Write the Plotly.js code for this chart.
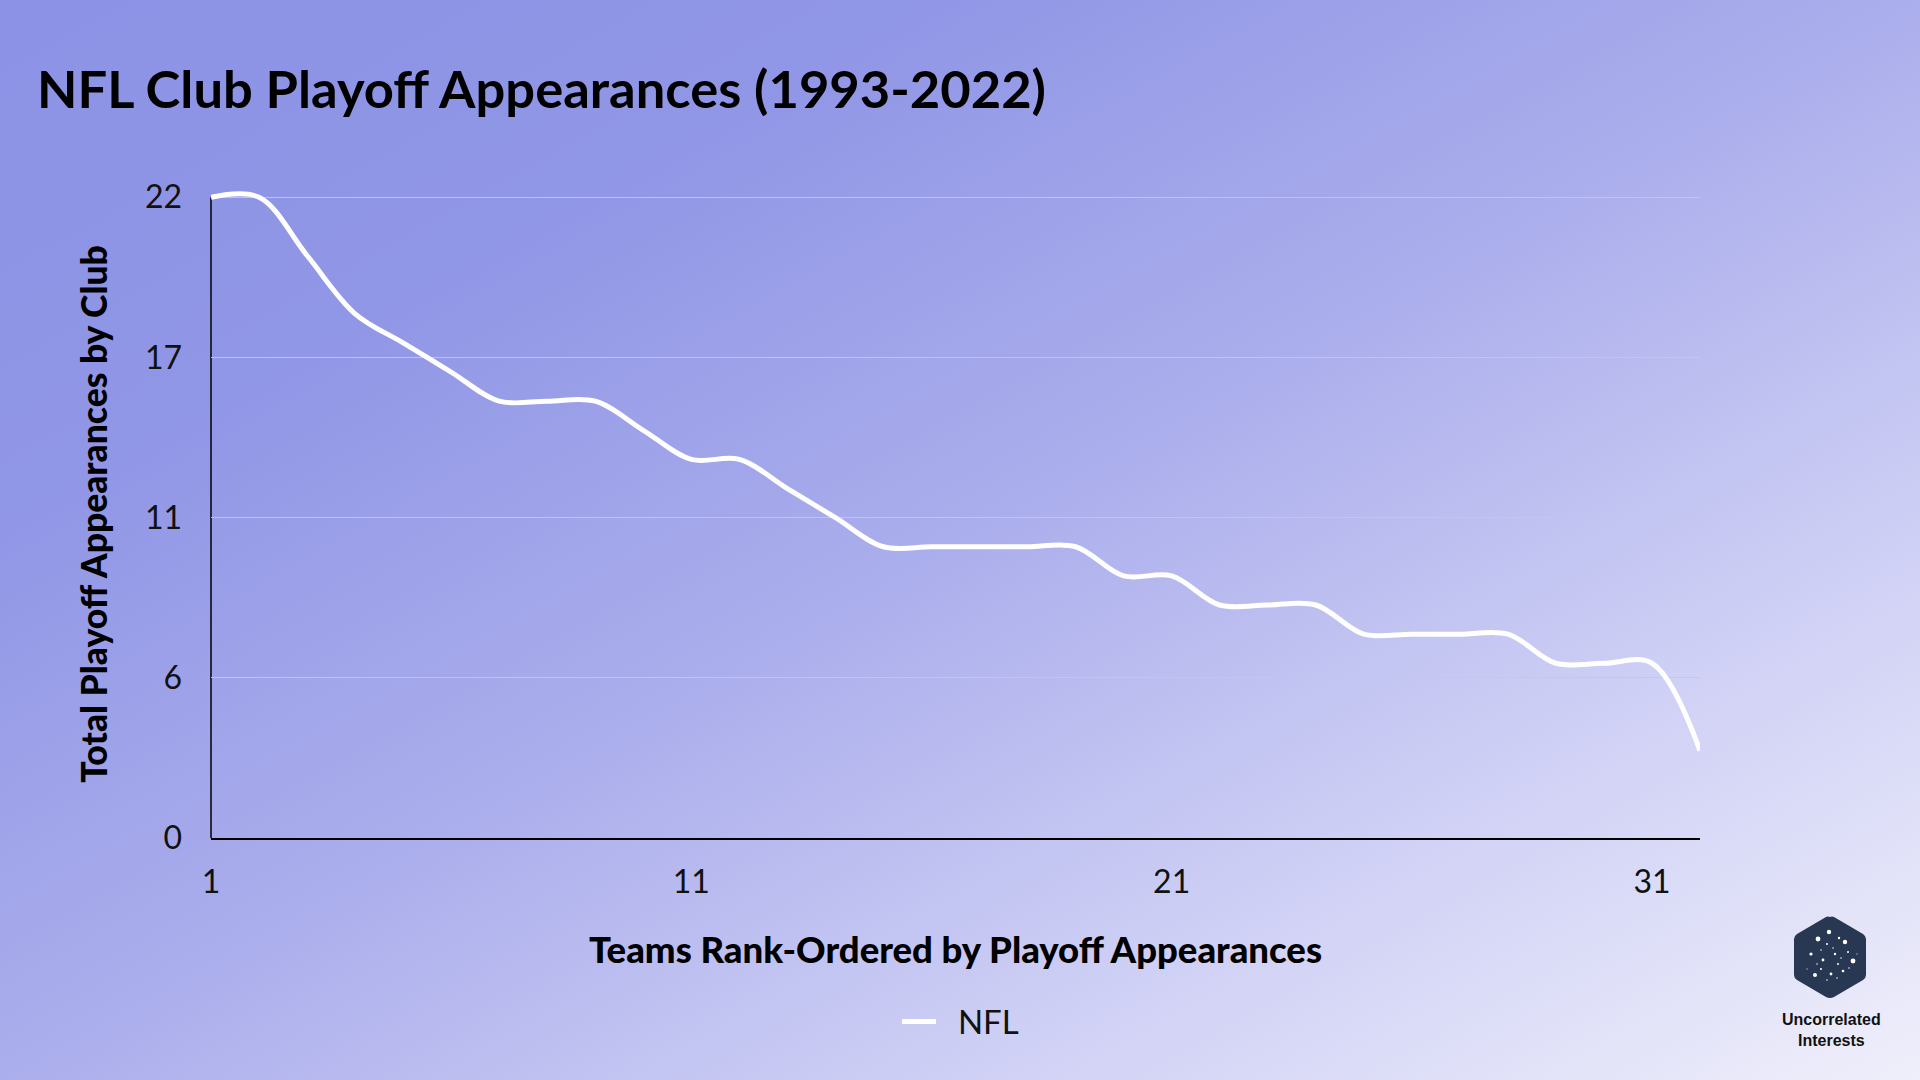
<!DOCTYPE html>
<html>
<head>
<meta charset="utf-8">
<script src="https://cdn.plot.ly/plotly-3.0.1.min.js"></script>
<style>
  html, body { margin:0; padding:0; width:1920px; height:1080px; overflow:hidden; }
  #bg { position:absolute; left:0; top:0; width:1920px; height:1080px;
        background: linear-gradient(to bottom right, #8c92e5 0%, #9197e6 25%, #abaeec 50%, #cfd0f5 75%, #efeffb 100%); }
  #chart { position:absolute; left:0; top:0; width:1920px; height:1080px; }
  #logo { position:absolute; left:1790px; top:914px; width:80px; height:86px; }
</style>
</head>
<body>
<div id="bg"></div>
<div id="chart"></div>
<svg id="logo" viewBox="0 0 78 86" xmlns="http://www.w3.org/2000/svg">
  <path d="M39 3 Q41 2 43 3 L72 20 Q75 22 75 25 L75 61 Q75 64 72 66 L43 83 Q39 85 35 83 L6 66 Q3 64 3 61 L3 25 Q3 22 6 20 L35 3 Q37 2 39 3 Z" fill="#283852"/>
  <g fill="#ffffff">
    <circle cx="38" cy="18" r="2.2"/><circle cx="27" cy="25" r="2.4"/><circle cx="54" cy="28" r="2.2"/>
    <circle cx="48" cy="24" r="1.2"/><circle cx="20" cy="40" r="1.6"/><circle cx="62" cy="47" r="2.4"/>
    <circle cx="32" cy="46" r="1.4"/><circle cx="44" cy="40" r="1.2"/><circle cx="24" cy="61" r="2"/>
    <circle cx="40" cy="60" r="1.4"/><circle cx="52" cy="57" r="1.3"/><circle cx="36" cy="30" r="1"/>
    <circle cx="30" cy="55" r="1"/><circle cx="47" cy="50" r="1"/><circle cx="57" cy="38" r="1"/>
  </g>
  <g fill="#b8b8e8" opacity="0.8">
    <circle cx="30" cy="36" r="1"/><circle cx="42" cy="34" r="1"/><circle cx="50" cy="44" r="1"/>
    <circle cx="26" cy="50" r="1"/><circle cx="58" cy="54" r="1"/><circle cx="36" cy="66" r="1"/>
    <circle cx="46" cy="64" r="1"/><circle cx="16" cy="55" r="0.8"/><circle cx="66" cy="40" r="0.8"/>
  </g>
</svg>
<script>
const ranks = [1,2,3,4,5,6,7,8,9,10,11,12,13,14,15,16,17,18,19,20,21,22,23,24,25,26,27,28,29,30,31,32];
const appearances = [22,22,20,18,17,16,15,15,15,14,13,13,12,11,10,10,10,10,10,9,9,8,8,8,7,7,7,7,6,6,6,3];
const xTickVals = [1,11,21,31];
const xTickText = ['1','11','21','31'];
const yTickVals = [0,5.5,11,16.5,22];
const yTickText = ['0','6','11','17','22'];
const seriesName = 'NFL';

const W = 1920, H = 1080;
const L = 210.6, R = 1699.6, T = 189.7, B = 837.6;
const px2x = p => (p - L) / (R - L);
const py2y = p => (B - p) / (B - T);

const trace = {
  x: ranks, y: appearances, type: 'scatter', mode: 'lines', name: '\u00a0\u00a0' + seriesName,
  line: { color: '#ffffff', width: 5, shape: 'spline', smoothing: 1 },
  hoverinfo: 'x+y'
};

const layout = {
  width: W, height: H,
  paper_bgcolor: 'rgba(0,0,0,0)', plot_bgcolor: 'rgba(0,0,0,0)',
  margin: { l: L, r: W - R, t: T, b: H - B, pad: 0 },
  title: {
    text: 'NFL Club Playoff Appearances (1993-2022)',
    x: 37 / W, xanchor: 'left', xref: 'container',
    y: 1 - 90 / H, yanchor: 'middle', yref: 'container',
    font: { family: 'Lato', size: 52.5, weight: 700, color: '#000000' }
  },
  xaxis: {
    range: [1, 32], tickvals: xTickVals, ticktext: xTickText,
    showgrid: false, zeroline: false, showline: true, linecolor: '#000000', linewidth: 1.5,
    ticks: '', ticklabelstandoff: 15,
    tickfont: { family: 'Lato', size: 32, color: '#111111' },
    title: { text: 'Teams Rank-Ordered by Playoff Appearances', standoff: 38,
             font: { family: 'Lato', size: 36.5, weight: 900, color: '#000000' } }
  },
  yaxis: {
    range: [0, 22.25], tickvals: yTickVals, ticktext: yTickText,
    showgrid: true, gridcolor: 'rgba(200,200,212,0.9)', gridwidth: 1,
    zeroline: false, showline: false,
    ticks: '', ticklabelstandoff: 28,
    tickfont: { family: 'Lato', size: 32, color: '#111111' },
    title: { text: 'Total Playoff Appearances by Club', standoff: 26,
             font: { family: 'Lato', size: 35.5, weight: 900, color: '#000000' } }
  },
  shapes: [
    { type: 'line', xref: 'paper', yref: 'y', x0: 0, x1: 0, y0: 0, y1: 22,
      line: { color: '#000000', width: 1.5 }, layer: 'below' }
  ],
  showlegend: true,
  legend: {
    orientation: 'h', x: 0.5 + 5 / (R - L), xanchor: 'center', y: py2y(1021), yanchor: 'middle',
    itemwidth: 34,
    font: { family: 'Lato', size: 33, color: '#111111' }, bgcolor: 'rgba(0,0,0,0)'
  },
  annotations: [
    { text: '<b>Uncorrelated</b><br><b>Interests</b>', xref: 'paper', yref: 'paper',
      x: px2x(1831), y: py2y(1030), xanchor: 'center', yanchor: 'middle', showarrow: false,
      font: { family: 'Liberation Sans', size: 16, color: '#111111' } }
  ]
};

Plotly.newPlot('chart', [trace], layout, { staticPlot: true, displayModeBar: false });
</script>
</body>
</html>
